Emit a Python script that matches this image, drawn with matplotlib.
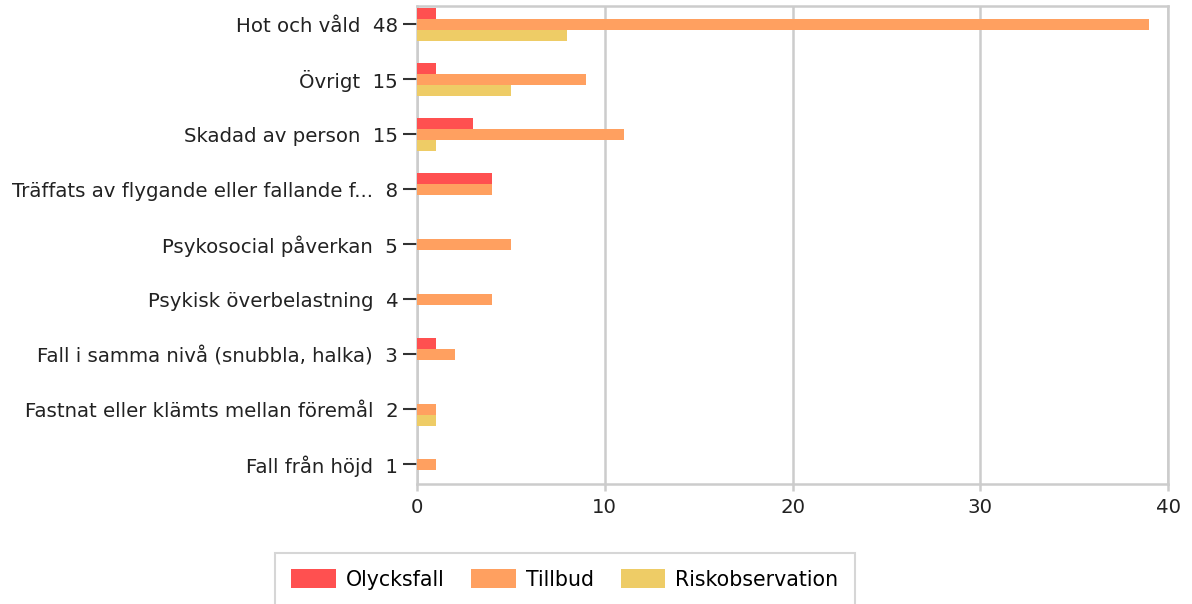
import numpy as np
import matplotlib.pyplot as plt

categories = ['Hot och våld', 'Övrigt', 'Skadad av person',
              'Träffats av flygande eller fallande f...', 'Psykosocial påverkan',
              'Psykisk överbelastning', 'Fall i samma nivå (snubbla, halka)',
              'Fastnat eller klämts mellan föremål', 'Fall från höjd']
olycksfall = [1, 1, 3, 4, 0, 0, 1, 0, 0]
tillbud = [39, 9, 11, 4, 5, 4, 2, 1, 1]
riskobservation = [8, 5, 1, 0, 0, 0, 0, 1, 0]
series_names = ['Olycksfall', 'Tillbud', 'Riskobservation']
colors = ['#FF5050', '#FFA060', '#EECC66']

totals = [a + b + c for a, b, c in zip(olycksfall, tillbud, riskobservation)]
labels = [f'{name}  {tot}' for name, tot in zip(categories, totals)]

plt.rcParams['font.family'] = 'DejaVu Sans'
fig = plt.figure(figsize=(11.92, 6.04), dpi=100)
ax = fig.add_axes([0.3498, 0.1987, 0.9799 - 0.3498, 0.990 - 0.1987])

y = np.arange(len(categories))
h = 0.2
for i, (vals, name, col) in enumerate(zip([olycksfall, tillbud, riskobservation], series_names, colors)):
    ax.barh(y + (i - 1) * h, vals, height=h, color=col, label=name, zorder=3)

ax.set_xlim(0, 40)
ax.set_ylim(8.36, -0.33)
ax.set_xticks([0, 10, 20, 30, 40])
ax.set_yticks(y)
ax.set_yticklabels(labels)
ax.grid(axis='x', color='#CCCCCC', linewidth=1.8, zorder=0)
for s in ax.spines.values():
    s.set_color('#CCCCCC')
    s.set_linewidth(1.8)
ax.tick_params(axis='y', length=10, width=1.5, color='#333333', pad=3.5, labelsize=14.2, labelcolor='#222222')
ax.tick_params(axis='x', length=5, width=1.8, color='#CCCCCC', pad=5, labelsize=14.2, labelcolor='#222222')

leg = fig.legend(loc='upper left', bbox_to_anchor=(0.2307, 0.0844), ncol=3, frameon=True,
                 fancybox=False, edgecolor='#CCCCCC', fontsize=14.8, handlelength=2.15,
                 handleheight=1.0, handletextpad=0.5, columnspacing=1.3, borderpad=0.8,
                 borderaxespad=0)
leg.get_frame().set_linewidth(1.5)

fig.savefig('out.png', dpi=100)
